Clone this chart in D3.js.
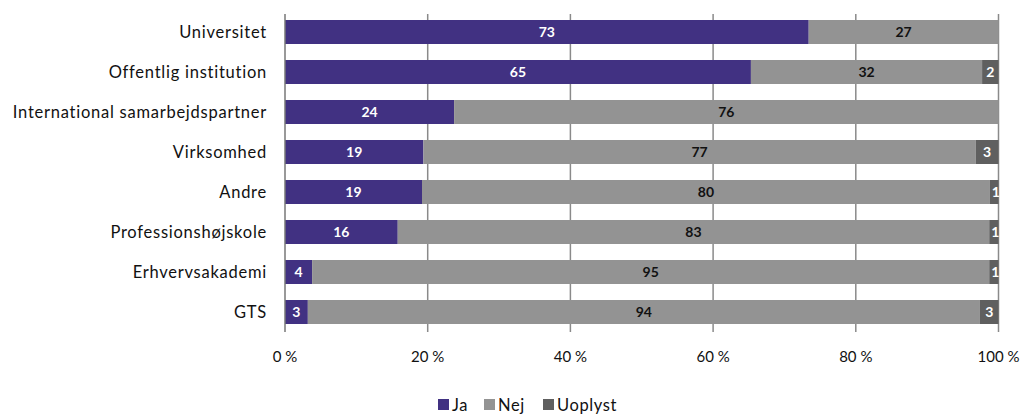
<!DOCTYPE html>
<html><head><meta charset="utf-8">
<script src="https://cdn.jsdelivr.net/npm/d3@7"></script>
<style>body{margin:0;background:#fff;}svg{display:block;font-family:Lato,"Open Sans",sans-serif;}</style>
</head><body>
<svg id="c" width="1023" height="414"></svg>
<script>
const categories = ["Universitet","Offentlig institution","International samarbejdspartner","Virksomhed","Andre","Professionshøjskole","Erhvervsakademi","GTS"];
const seriesNames = ["Ja","Nej","Uoplyst"];
const ja      = [73.4, 65.3, 23.7, 19.4, 19.2, 15.8, 3.8, 3.2];
const nej     = [26.6, 32.4, 76.3, 77.4, 79.6, 82.9, 94.9, 94.2];
const uoplyst = [0,    2.3,  0,    3.2,  1.2,  1.3,  1.3,  2.6];
const tickValues = [0, 20, 40, 60, 80, 100];
const tickLabels = ["0 %","20 %","40 %","60 %","80 %","100 %"];
const colors = ["#413182", "#939393", "#5f5f5f"];
const labelColors = ["#fff", "#111", "#fff"];

const svg = d3.select("#c");
const x = d3.scaleLinear().domain([0,100]).range([285, 998.5]);
const y = d3.scaleBand().domain(categories).range([12, 332]).paddingInner(0.4).paddingOuter(0.2);

const rows = categories.map((c,i)=>({cat:c, Ja:ja[i], Nej:nej[i], Uoplyst:uoplyst[i]}));
const stack = d3.stack().keys(seriesNames)(rows);

// gridlines
svg.append("g").selectAll("line").data(tickValues.slice(1)).join("line")
  .attr("x1", d=>x(d)).attr("x2", d=>x(d)).attr("y1", 14).attr("y2", 332)
  .attr("stroke", "#8a8a8a").attr("stroke-width", 1.5);

// bars
stack.forEach((s,si)=>{
  const g = svg.append("g");
  g.selectAll("rect").data(s).join("rect")
    .attr("x", d=>x(d[0])).attr("width", d=>x(d[1])-x(d[0]))
    .attr("y", d=>y(d.data.cat)).attr("height", y.bandwidth())
    .attr("fill", colors[si]);
  g.selectAll("text").data(s.filter(d=>d[1]-d[0]>0)).join("text")
    .attr("x", d=>(x(d[0])+x(d[1]))/2 + (si===2 && d[1]-d[0]<2 ? 1.5 : 0))
    .attr("y", d=>y(d.data.cat)+y.bandwidth()/2)
    .attr("dy","0.36em").attr("text-anchor","middle")
    .attr("font-size", 14).attr("font-weight", "bold")
    .attr("fill", labelColors[si])
    .text(d=>Math.round(d[1]-d[0]));
});

// left axis line
svg.append("line").attr("x1",285).attr("x2",285).attr("y1",14).attr("y2",332)
  .attr("stroke","#777").attr("stroke-width",1.5);

// category labels
svg.append("g").selectAll("text").data(categories).join("text")
  .attr("x", 267).attr("y", d=>y(d)+y.bandwidth()/2).attr("dy","0.35em")
  .attr("text-anchor","end").attr("font-size",16.5).attr("letter-spacing", "0.75px")
  .attr("fill","#111").text(d=>d);

// x axis labels
svg.append("g").selectAll("text").data(tickValues).join("text")
  .attr("x", d=>x(d)).attr("y", 357).attr("dy","0.35em")
  .attr("text-anchor","middle").attr("font-size",15).attr("fill","#111")
  .text((d,i)=>tickLabels[i]);

// legend
const legX = [438, 484, 543];
const lg = svg.append("g");
seriesNames.forEach((n,i)=>{
  lg.append("rect").attr("x", legX[i]).attr("y", 399).attr("width", 11).attr("height", 11).attr("fill", colors[i]);
  lg.append("text").attr("x", legX[i]+14).attr("y", 405).attr("dy","0.35em")
    .attr("font-size",16.5).attr("letter-spacing","0.6px").attr("fill","#111").text(n);
});
</script>
</body></html>
